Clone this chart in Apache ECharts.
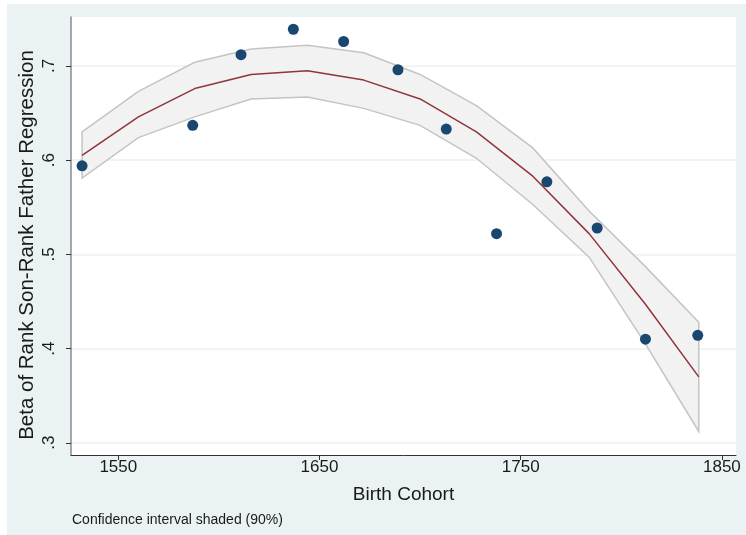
<!DOCTYPE html>
<html>
<head>
<meta charset="utf-8">
<script src="https://cdn.jsdelivr.net/npm/echarts@6/dist/echarts.min.js"></script>
<style>
  html, body { margin: 0; padding: 0; background: #ffffff; }
  #bg { position: absolute; left: 7px; top: 4px; width: 739px; height: 531px; background: #eaf2f3; }
  #chart { position: absolute; left: 0; top: 0; width: 746px; height: 535px; }
</style>
</head>
<body>
<div id="bg"></div>
<div id="chart"></div>
<script>
// Observed cohort estimates
const years = [1532, 1587, 1611, 1637, 1662, 1689, 1713, 1738, 1763, 1788, 1812, 1838];
const betas = [0.594, 0.637, 0.712, 0.739, 0.726, 0.696, 0.633, 0.522, 0.577, 0.528, 0.410, 0.414];

// Fitted curve and 90% confidence band
const fitYears = [1532, 1560, 1588, 1616, 1644, 1672, 1700, 1728, 1756, 1784, 1812, 1838.5];
const fitBeta  = [0.605, 0.646, 0.676, 0.691, 0.695, 0.685, 0.665, 0.630, 0.583, 0.522, 0.447, 0.370];
const ciUpper  = [0.630, 0.673, 0.704, 0.718, 0.722, 0.714, 0.691, 0.658, 0.613, 0.546, 0.487, 0.428];
const ciLower  = [0.581, 0.624, 0.646, 0.665, 0.667, 0.655, 0.637, 0.602, 0.553, 0.497, 0.405, 0.312];

// Tick labels
const xTicks = [1550, 1650, 1750, 1850];
const yTicks = [0.3, 0.4, 0.5, 0.6, 0.7];

const FONT = "'Liberation Sans', Arial, Helvetica, sans-serif";
const chart = echarts.init(document.getElementById('chart'), null, { renderer: 'canvas' });

chart.setOption({
  backgroundColor: 'transparent',
  animation: false,
  textStyle: { fontFamily: FONT },
  title: {
    text: 'Confidence interval shaded (90%)',
    left: 72, top: 513, padding: 0,
    textStyle: { fontSize: 14, fontWeight: 'normal', color: '#1a1a1a', fontFamily: FONT }
  },
  grid: {
    left: 71, top: 17, right: 10, bottom: 80,
    show: true, backgroundColor: '#ffffff', borderWidth: 0
  },
  xAxis: {
    type: 'value', min: 1526.5, max: 1857,
    name: 'Birth Cohort', nameLocation: 'middle', nameGap: 30,
    nameTextStyle: { fontSize: 19, color: '#1a1a1a', fontFamily: FONT },
    axisLine: { show: true, onZero: false, lineStyle: { color: '#333333', width: 1 } },
    axisTick: { show: true, length: 5, customValues: xTicks, lineStyle: { color: '#333333' } },
    axisLabel: {
      customValues: xTicks, fontSize: 17, color: '#1a1a1a', margin: 4, fontFamily: FONT,
      formatter: v => String(v)
    },
    splitLine: { show: false }
  },
  yAxis: {
    type: 'value', min: 0.287, max: 0.752,
    name: 'Beta of Rank Son-Rank Father Regression', nameLocation: 'middle', nameGap: 33, nameRotate: 90,
    nameMoveOverlap: false,
    nameTextStyle: { fontSize: 20.5, color: '#1a1a1a', fontFamily: FONT, padding: [0, 18, 0, 0] },
    axisLine: { show: true, onZero: false, lineStyle: { color: '#8a8a8a', width: 1.5 } },
    axisTick: { show: true, length: 5, customValues: yTicks, lineStyle: { color: '#333333' } },
    axisLabel: {
      customValues: yTicks, rotate: 90, fontSize: 17, color: '#1a1a1a', margin: 13, fontFamily: FONT,
      formatter: v => String(Math.round(v * 10) / 10).replace(/^0/, '')
    },
    splitLine: { show: true, lineStyle: { color: '#eaf2f3', width: 1.5 } }
  },
  series: [
    {
      type: 'custom', z: 2, silent: true,
      data: fitYears.map((x, i) => [x, ciLower[i], ciUpper[i]]),
      encode: { x: 0, y: [1, 2] },
      renderItem: (params, api) => {
        if (params.dataIndex !== 0) return null;
        const top = fitYears.map((x, i) => api.coord([x, ciUpper[i]]));
        const bot = fitYears.map((x, i) => api.coord([x, ciLower[i]])).reverse();
        return {
          type: 'polygon',
          shape: { points: top.concat(bot) },
          style: { fill: '#f2f2f2', stroke: '#c4c4c4', lineWidth: 1.5 }
        };
      }
    },
    {
      type: 'line', z: 3, silent: true, symbol: 'none',
      data: fitYears.map((x, i) => [x, fitBeta[i]]),
      lineStyle: { color: '#90353b', width: 1.5 }
    },
    {
      type: 'scatter', z: 4, silent: true,
      data: years.map((x, i) => [x, betas[i]]),
      symbol: 'circle', symbolSize: 11,
      itemStyle: { color: '#1a476f', opacity: 1 }
    }
  ]
});
</script>
</body>
</html>
